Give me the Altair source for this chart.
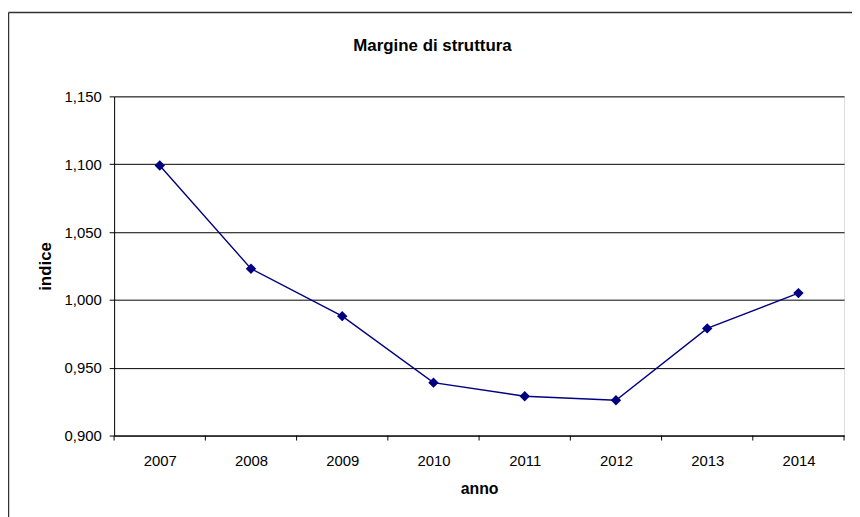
import altair as alt
import pandas as pd

years = [2007, 2008, 2009, 2010, 2011, 2012, 2013, 2014]
indice = [1.099, 1.023, 0.988, 0.939, 0.929, 0.926, 0.979, 1.005]
y_ticks = [0.900, 0.950, 1.000, 1.050, 1.100, 1.150]
x_tick_edges = [2006.5, 2007.5, 2008.5, 2009.5, 2010.5, 2011.5, 2012.5, 2013.5, 2014.5]

df = pd.DataFrame({"anno": years, "indice": indice})
edges_df = pd.DataFrame({"edge": x_tick_edges})

FONT = "Liberation Sans"
NAVY = "#000080"

x_scale = alt.Scale(domain=[2006.5, 2014.5], nice=False, zero=False)

x_enc = alt.X(
    "anno:Q",
    scale=x_scale,
    axis=alt.Axis(
        title="anno",
        values=years,
        format="d",
        labelOverlap=False,
        labelFlush=False,
        grid=False,
        domainColor="black",
        ticks=False,
        labelPadding=18,
        labelFontSize=15,
        labelFont=FONT,
        labelColor="black",
        titleFont=FONT,
        titleFontSize=16,
        titleFontWeight="bold",
        titleColor="black",
        titlePadding=12,
    ),
)

y_enc = alt.Y(
    "indice:Q",
    scale=alt.Scale(domain=[0.9, 1.15], nice=False, zero=False),
    axis=alt.Axis(
        title="indice",
        values=y_ticks,
        labelExpr="replace(format(datum.value, '.3f'), '.', ',')",
        labelFlush=False,
        labelOverlap=False,
        grid=True,
        gridColor="black",
        gridWidth=1,
        gridOpacity=1,
        domainColor="black",
        tickColor="black",
        tickSize=5,
        labelPadding=8,
        labelFontSize=15,
        labelFont=FONT,
        labelColor="black",
        titleFont=FONT,
        titleFontSize=17,
        titleFontWeight="bold",
        titleColor="black",
        titlePadding=10,
    ),
)

line = alt.Chart(df).mark_line(color=NAVY, strokeWidth=1.4).encode(x=x_enc, y=y_enc)
points = alt.Chart(df).mark_point(
    shape="diamond", filled=True, color=NAVY, size=110, opacity=1
).encode(x="anno:Q", y="indice:Q")

x_ticks_marks = alt.Chart(edges_df).mark_rule(color="black", strokeWidth=1).encode(
    x=alt.X("edge:Q", scale=x_scale),
    y=alt.value(342),
    y2=alt.value(347),
)

frame_df = pd.DataFrame({"k": [0]})
left_border = alt.Chart(frame_df).mark_rule(color="#333333", strokeWidth=1.5).encode(
    x=alt.value(-106.5), y=alt.value(-84.5), y2=alt.value(600)
)
top_border = alt.Chart(frame_df).mark_rule(color="#333333", strokeWidth=1.5).encode(
    x=alt.value(-106.5), x2=alt.value(900), y=alt.value(-84.5)
)

chart = (
    alt.layer(left_border, top_border, x_ticks_marks, line, points)
    .properties(
        width=736,
        height=342,
        autosize=alt.AutoSizeParams(type="none"),
        padding={"left": 107, "top": 87, "right": 8, "bottom": 80},
        title=alt.TitleParams(
            text="Margine di struttura",
            font=FONT,
            fontSize=17,
            fontWeight="bold",
            color="black",
            anchor="middle",
            dx=-47,
            baseline="alphabetic",
            offset=-56,
        ),
    )
    .configure_view(stroke="black", strokeWidth=1)
    .configure(background="white")
)

chart.save("out.html", embed_options={"renderer": "svg", "actions": False})
